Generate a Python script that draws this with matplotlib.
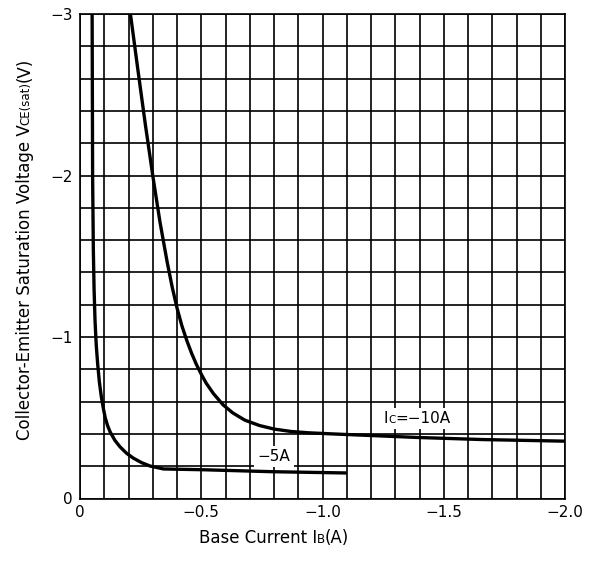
import matplotlib
matplotlib.use("Agg")
import matplotlib.pyplot as plt
from matplotlib.transforms import IdentityTransform, Bbox
from matplotlib.patches import Rectangle
import numpy as np

# ---------------- data ----------------
# Ic = -10 A curve
ib_10A = [-0.208, -0.24, -0.27, -0.30, -0.33, -0.36, -0.38, -0.40, -0.42, -0.44,
          -0.46, -0.48, -0.50, -0.52, -0.55, -0.59, -0.63, -0.68, -0.74, -0.80,
          -0.87, -0.94, -1.04, -1.2, -1.39, -1.66, -2.0]
vce_10A = [-3.0, -2.64, -2.31, -2.00, -1.71, -1.46, -1.31, -1.18, -1.07, -0.98,
           -0.90, -0.83, -0.77, -0.715, -0.65, -0.58, -0.53, -0.485, -0.452, -0.43,
           -0.415, -0.407, -0.40, -0.39, -0.378, -0.365, -0.355]
# Ic = -5 A curve
ib_5A = [-0.050, -0.052, -0.055, -0.058, -0.062, -0.067, -0.073, -0.080, -0.088,
         -0.096, -0.104, -0.114, -0.125, -0.144, -0.165, -0.192, -0.22, -0.254,
         -0.289, -0.344, -0.51, -0.79, -1.1]
vce_5A = [-3.0, -2.0, -1.54, -1.30, -1.10, -0.95, -0.83, -0.72, -0.63,
          -0.56, -0.50, -0.45, -0.41, -0.36, -0.32, -0.28, -0.25, -0.222,
          -0.201, -0.183, -0.178, -0.166, -0.158]

x_ticks = [0, -0.5, -1.0, -1.5, -2.0]
x_tick_labels = ["0", "\u22120.5", "\u22121.0", "\u22121.5", "\u22122.0"]
y_ticks = [0, -1, -2, -3]
y_tick_labels = ["0", "\u22121", "\u22122", "\u22123"]

# curve labels: (pieces, centre x, baseline y) in data units
label_10A = ([("I", 11), ("C", 7.5), ("=\u221210A", 11)], -1.39, -0.467)
label_5A = ([("\u22125A", 11)], -0.80, -0.234)

plt.rcParams["font.family"] = ["DejaVu Sans"]

W, H = 592, 561
fig = plt.figure(figsize=(W / 100, H / 100), dpi=100)
ax = fig.add_axes([80 / W, 1 - 498.5 / H, 485 / W, 484.5 / H])
ax.set_xlim(0, -2.0)
ax.set_ylim(0, -3.0)

ax.set_xticks(x_ticks)
ax.set_xticklabels(x_tick_labels)
ax.set_yticks(y_ticks)
ax.set_yticklabels(y_tick_labels)
ax.set_xticks(np.linspace(0, -2.0, 21), minor=True)
ax.set_yticks(np.linspace(0, -3.0, 16), minor=True)
ax.grid(which="both", color="black", lw=1.2)
ax.tick_params(which="both", length=0, labelsize=11, colors="black")
ax.tick_params(axis="x", pad=5)
ax.tick_params(axis="y", pad=5)
for s in ax.spines.values():
    s.set_linewidth(1.2)
    s.set_color("black")

ax.plot(ib_10A, vce_10A, color="black", lw=2.4, zorder=6, solid_capstyle="butt",
        solid_joinstyle="round")
ax.plot(ib_5A, vce_5A, color="black", lw=2.4, zorder=6, solid_capstyle="butt",
        solid_joinstyle="round")

renderer = fig.canvas.get_renderer()


def chain(target, cx, cy, pieces, rotation=0, **kw):
    """Place text pieces one after another, centred on (cx, cy) in pixels (cy = baseline)."""
    texts = [target.text(0, 0, s, fontsize=fs, rotation=rotation, rotation_mode="anchor",
                         ha="left", va="baseline", transform=IdentityTransform(), **kw)
             for s, fs in pieces]
    lens = []
    for t in texts:
        e = t.get_window_extent(renderer)
        lens.append(e.width if rotation == 0 else e.height)
    pos = -sum(lens) / 2
    for t, L in zip(texts, lens):
        if rotation == 0:
            t.set_position((cx + pos, cy))
        else:
            t.set_position((cx, cy + pos))
        pos += L
    return texts


for pieces, lx, ly in (label_10A, label_5A):
    px, py = ax.transData.transform((lx, ly))
    texts = chain(ax, px, py, pieces, zorder=5, clip_on=False, color="black")
    bb = Bbox.union([t.get_window_extent(renderer) for t in texts])
    ax.add_patch(Rectangle((bb.x0 - 4, bb.y0 - 3), bb.width + 8, bb.height + 6,
                           transform=IdentityTransform(), facecolor="white",
                           edgecolor="none", zorder=4, clip_on=False))

# axis labels
chain(fig, 274, H - 543, [("Base Current I", 12), ("B", 8.5), ("(A)", 12)])
chain(fig, 29.5, H - 249, [("Collector-Emitter Saturation Voltage V", 12),
                           ("CE(sat)", 8.5), ("(V)", 12)], rotation=90)

fig.savefig("out.png", dpi=100)
